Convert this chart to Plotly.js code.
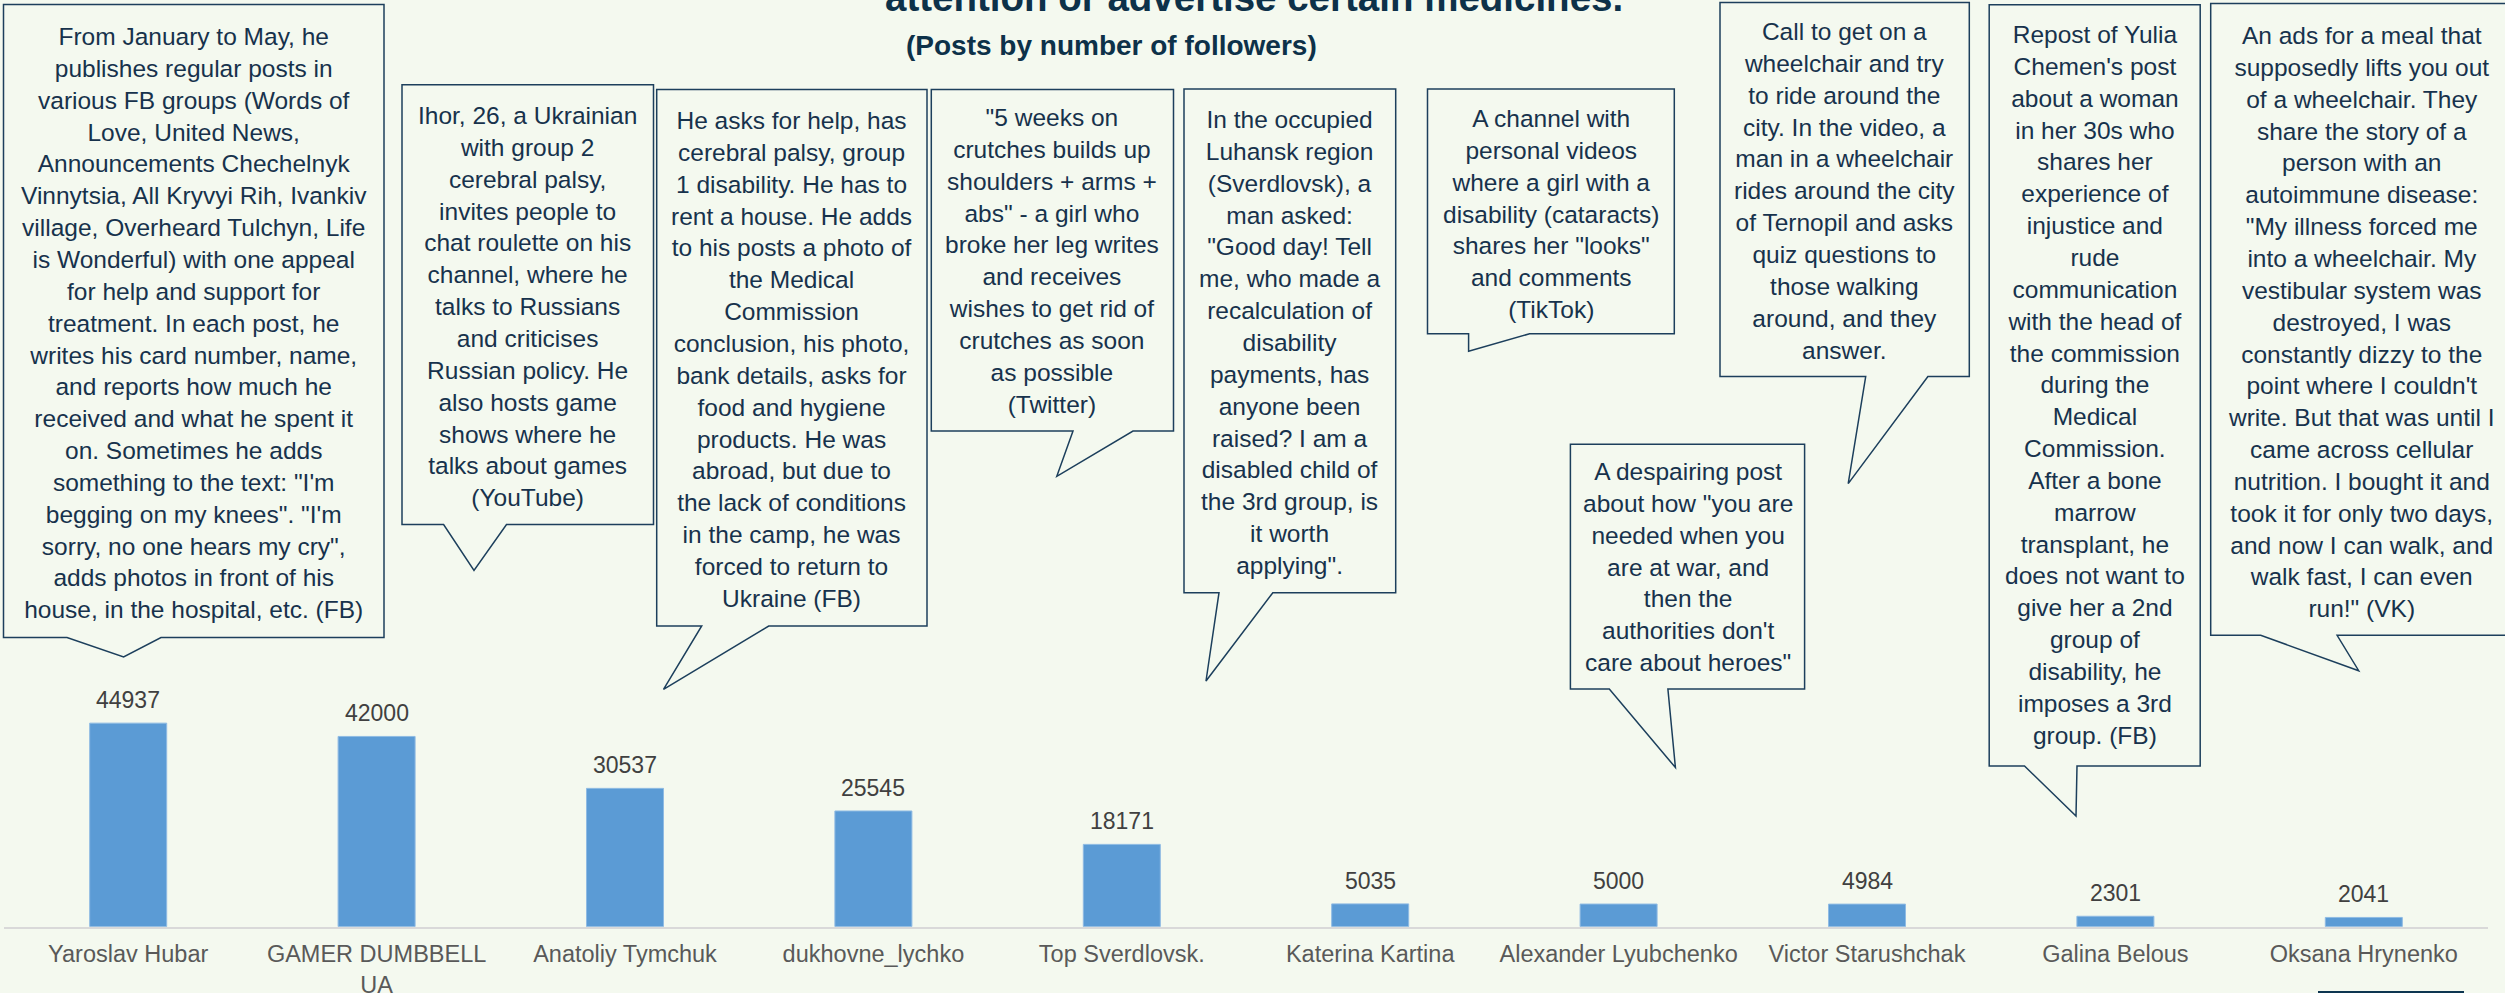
<!DOCTYPE html>
<html>
<head>
<meta charset="utf-8">
<script src="https://cdn.plot.ly/plotly-3.0.1.min.js"></script>
<style>
  html, body { margin: 0; padding: 0; background: #f4f9ef; }
  #chart { width: 2505px; height: 993px; }
</style>
</head>
<body>
<div id="chart"></div>
<script>
// ---------- DATA ----------
const categories = [
  "Yaroslav Hubar", "GAMER DUMBBELL UA", "Anatoliy Tymchuk", "dukhovne_lychko",
  "Top Sverdlovsk.", "Katerina Kartina", "Alexander Lyubchenko", "Victor Starushchak",
  "Galina Belous", "Oksana Hrynenko"
];
const tickLabels = [
  "Yaroslav Hubar", "GAMER DUMBBELL<br>UA", "Anatoliy Tymchuk", "dukhovne_lychko",
  "Top Sverdlovsk.", "Katerina Kartina", "Alexander Lyubchenko", "Victor Starushchak",
  "Galina Belous", "Oksana Hrynenko"
];
const followers = [44937, 42000, 30537, 25545, 18171, 5035, 5000, 4984, 2301, 2041];

const titleText = "attention or advertise certain medicines.";
const subtitleText = "(Posts by number of followers)";

const calloutTexts = [
  ["From January to May, he", "publishes regular posts in", "various FB groups (Words of", "Love, United News,",
   "Announcements Chechelnyk", "Vinnytsia, All Kryvyi Rih, Ivankiv", "village, Overheard Tulchyn, Life",
   "is Wonderful) with one appeal", "for help and support for", "treatment. In each post, he",
   "writes his card number, name,", "and reports how much he", "received and what he spent it",
   "on. Sometimes he adds", "something to the text: \"I'm", "begging on my knees\". \"I'm",
   "sorry, no one hears my cry\",", "adds photos in front of his", "house, in the hospital, etc. (FB)"],
  ["Ihor, 26, a Ukrainian", "with group 2", "cerebral palsy,", "invites people to", "chat roulette on his",
   "channel, where he", "talks to Russians", "and criticises", "Russian policy. He", "also hosts game",
   "shows where he", "talks about games", "(YouTube)"],
  ["He asks for help, has", "cerebral palsy, group", "1 disability. He has to", "rent a house. He adds",
   "to his posts a photo of", "the Medical", "Commission", "conclusion, his photo,", "bank details, asks for",
   "food and hygiene", "products. He was", "abroad, but due to", "the lack of conditions", "in the camp, he was",
   "forced to return to", "Ukraine (FB)"],
  ["\"5 weeks on", "crutches builds up", "shoulders + arms +", "abs\" - a girl who", "broke her leg writes",
   "and receives", "wishes to get rid of", "crutches as soon", "as possible", "(Twitter)"],
  ["In the occupied", "Luhansk region", "(Sverdlovsk), a", "man asked:", "\"Good day! Tell", "me, who made a",
   "recalculation of", "disability", "payments, has", "anyone been", "raised? I am a", "disabled child of",
   "the 3rd group, is", "it worth", "applying\"."],
  ["A channel with", "personal videos", "where a girl with a", "disability (cataracts)", "shares her \"looks\"",
   "and comments", "(TikTok)"],
  ["Call to get on a", "wheelchair and try", "to ride around the", "city. In the video, a", "man in a wheelchair",
   "rides around the city", "of Ternopil and asks", "quiz questions to", "those walking", "around, and they", "answer."],
  ["A despairing post", "about how \"you are", "needed when you", "are at war, and", "then the",
   "authorities don't", "care about heroes\""],
  ["Repost of Yulia", "Chemen's post", "about a woman", "in her 30s who", "shares her", "experience of",
   "injustice and", "rude", "communication", "with the head of", "the commission", "during the", "Medical",
   "Commission.", "After a bone", "marrow", "transplant, he", "does not want to", "give her a 2nd",
   "group of", "disability, he", "imposes a 3rd", "group. (FB)"],
  ["An ads for a meal that", "supposedly lifts you out", "of a wheelchair. They", "share the story of a",
   "person with an", "autoimmune disease:", "\"My illness forced me", "into a wheelchair. My",
   "vestibular system was", "destroyed, I was", "constantly dizzy to the", "point where I couldn't",
   "write. But that was until I", "came across cellular", "nutrition. I bought it and",
   "took it for only two days,", "and now I can walk, and", "walk fast, I can even", "run!\" (VK)"]
];

// ---------- LAYOUT GEOMETRY (pixels) ----------
const W = 2505, H = 993;
// box: [left, right, top, bottom]
const calloutBoxes = [
  [3.5, 384, 4.5, 637.5], [402, 653.5, 84.8, 524.5], [656.7, 927, 89.4, 626], [931.3, 1173.5, 89.4, 431],
  [1184, 1395.7, 89, 592.7], [1427.5, 1674.3, 89, 333.8], [1720, 1969.3, 2.5, 376.6],
  [1570.4, 1804.6, 444.3, 689], [1989.2, 2200.2, 4.8, 766], [2210.7, 2513, 3.5, 635.3]
];
// tail: [baseLeft, baseRight, tipX, tipY]
const calloutTails = [
  [67, 161, 123.6, 657], [443.6, 506.5, 474, 570.5], [701.7, 768.7, 663.5, 689.4], [1073, 1133, 1056.8, 476.3],
  [1219, 1272.8, 1206, 681], [1468.6, 1529.6, 1468.6, 351.2], [1865.7, 1927.9, 1848.2, 483.6],
  [1609.3, 1667.9, 1675.4, 767.5], [2024.5, 2077, 2076, 816], [2260.7, 2337.1, 2358.7, 670.7]
];
const calloutTextY = [322.5, 306.3, 359.8, 261.5, 342.7, 213.5, 190.8, 567.4, 385.4, 321.6];

const px = x => x / W;
const py = y => 1 - y / H;

const BG = "#f4f9ef";
const NAVY = "#1c3f5c";
const TEXTNAVY = "#17324c";

const shapes = [];
const annotations = [];

calloutBoxes.forEach((b, i) => {
  const [l, r, t, bt] = b;
  const [bl, br, tx, ty] = calloutTails[i];
  const path = `M ${px(l)},${py(t)} L ${px(r)},${py(t)} L ${px(r)},${py(bt)} L ${px(br)},${py(bt)} ` +
               `L ${px(tx)},${py(ty)} L ${px(bl)},${py(bt)} L ${px(l)},${py(bt)} Z`;
  shapes.push({
    type: "path", xref: "paper", yref: "paper", path: path,
    fillcolor: BG, line: { color: NAVY, width: 1.5 }, layer: "above"
  });
  annotations.push({
    xref: "paper", yref: "paper", x: px((l + r) / 2), y: py(calloutTextY[i]),
    xanchor: "center", yanchor: "middle", align: "center", showarrow: false,
    text: calloutTexts[i].join("<br>"),
    font: { family: "Liberation Sans, Arial, sans-serif", size: 24.5, color: TEXTNAVY }
  });
});

// bottom-right dark strip (cut-off element)
shapes.push({
  type: "rect", xref: "paper", yref: "paper", x0: px(2318), x1: px(2464), y0: py(1000), y1: py(991),
  fillcolor: "#0d3550", line: { width: 0 }, layer: "above"
});

// value labels
categories.forEach((c, i) => {
  annotations.push({
    xref: "x", yref: "y", x: c, y: followers[i], text: String(followers[i]),
    showarrow: false, xanchor: "center", yanchor: "bottom", yshift: 8,
    font: { family: "Liberation Sans, Arial, sans-serif", size: 23, color: "#404040" }
  });
});

// title (top line is cut by the top edge, as in the reference) and subtitle
annotations.push({
  xref: "paper", yref: "paper", x: px(1254), y: py(21), xanchor: "center", yanchor: "bottom",
  showarrow: false, text: "<b>" + titleText + "</b>",
  font: { family: "Liberation Sans, Arial, sans-serif", size: 38.5, color: "#0d3149" }
});
annotations.push({
  xref: "paper", yref: "paper", x: px(1111), y: py(46), xanchor: "center", yanchor: "middle",
  showarrow: false, text: "<b>" + subtitleText + "</b>",
  font: { family: "Liberation Sans, Arial, sans-serif", size: 28, color: "#0d3149" }
});

const trace = {
  type: "bar", x: categories, y: followers,
  marker: { color: "#5b9bd5", line: { color: "#8fbbe3", width: 1 } },
  hoverinfo: "x+y"
};

const layout = {
  width: W, height: H,
  margin: { l: 0, r: 0, t: 0, b: 0, pad: 0 },
  paper_bgcolor: BG, plot_bgcolor: BG,
  showlegend: false,
  bargap: 0.69,
  xaxis: {
    domain: [4 / W, 2488 / W],
    type: "category", tickmode: "array", tickvals: categories, ticktext: tickLabels,
    ticks: "", showgrid: false, zeroline: false,
    showline: true, linecolor: "#d9d9d9", linewidth: 2.5,
    ticklabelstandoff: 5,
    tickfont: { family: "Liberation Sans, Arial, sans-serif", size: 23.5, color: "#595959" },
    automargin: false, fixedrange: true
  },
  yaxis: {
    domain: [1 - 926.7 / H, 1 - 700.2 / H],
    range: [0, 50000], visible: false, showgrid: false, zeroline: false, fixedrange: true
  },
  shapes: shapes,
  annotations: annotations
};

Plotly.newPlot("chart", [trace], layout, { displayModeBar: false, staticPlot: true });
</script>
</body>
</html>
